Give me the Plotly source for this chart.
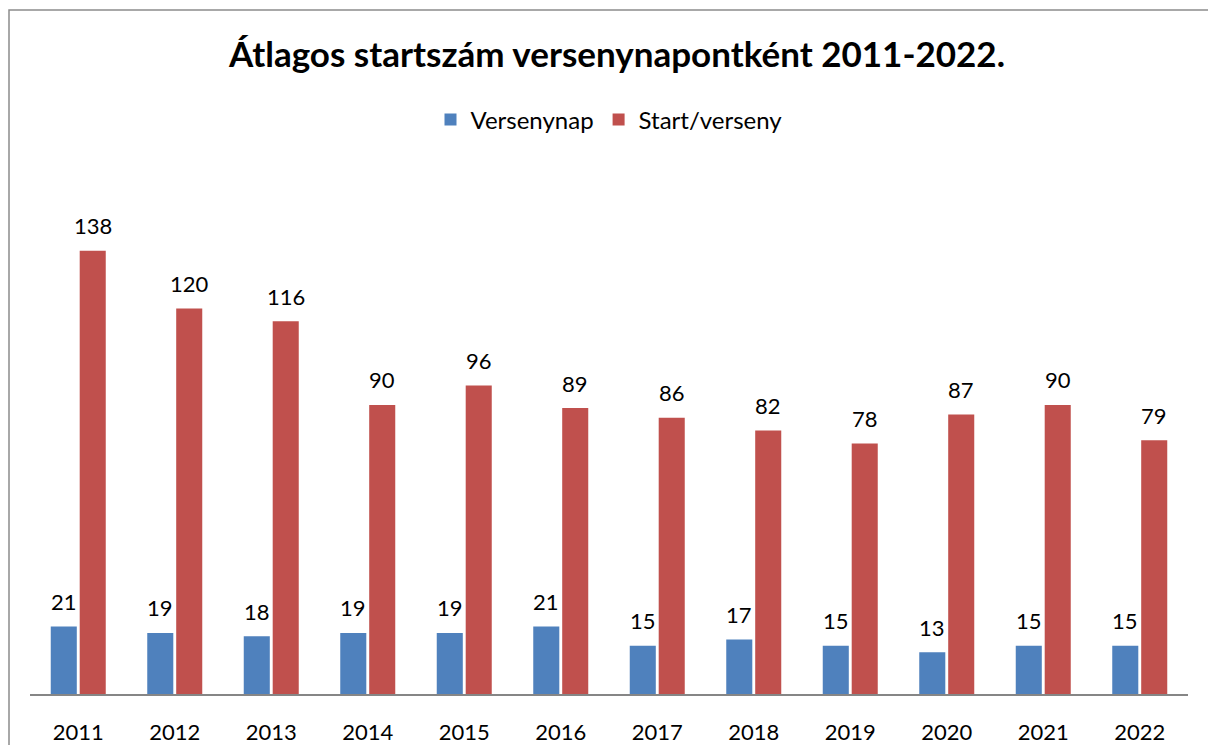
import plotly.graph_objects as go

years = ["2011", "2012", "2013", "2014", "2015", "2016", "2017", "2018", "2019", "2020", "2021", "2022"]
versenynap = [21, 19, 18, 19, 19, 21, 15, 17, 15, 13, 15, 15]
start_verseny = [138, 120, 116, 90, 96, 89, 86, 82, 78, 87, 90, 79]

BLUE = "#4F81BD"
RED = "#C0504D"
FONT = "Lato, Carlito, Calibri, sans-serif"

W, H = 1208, 745
ML, MR, MT, MB = 30, 20, 180, 51
plot_w = W - ML - MR
plot_h = H - MT - MB

fig = go.Figure()
fig.add_trace(go.Bar(x=years, y=versenynap, name="Versenynap", marker=dict(color=BLUE, line=dict(width=0))))
fig.add_trace(go.Bar(x=years, y=start_verseny, name="Start/verseny", marker=dict(color=RED, line=dict(width=0))))

bargap = 0.4
slot = plot_w / len(years) * (1 - bargap) / 2
annotations = []
for series, sign in ((versenynap, -1), (start_verseny, 1)):
    for i, v in enumerate(series):
        annotations.append(dict(
            x=i, y=v, xref="x", yref="y", text=str(v), showarrow=False,
            xshift=sign * slot / 2, yshift=25, yanchor="middle",
            font=dict(family=FONT, size=22, color="#000000"),
        ))

def px_to_paper_x(px):
    return (px - ML) / plot_w

def px_to_paper_y(py):
    return (H - MB - py) / plot_h

fig.update_layout(
    width=W, height=H,
    margin=dict(l=ML, r=MR, t=MT, b=MB, autoexpand=False),
    paper_bgcolor="white", plot_bgcolor="white",
    barmode="group", bargap=bargap, bargroupgap=0.1,
    title=dict(text="<b>Átlagos startszám versenynapontként 2011-2022.</b>",
               x=617 / W, xanchor="center", y=1 - 55 / H, yanchor="middle",
               font=dict(family=FONT, size=35, color="#000000")),
    legend=dict(orientation="h", x=0.5, xanchor="center", y=px_to_paper_y(120), yanchor="middle",
                font=dict(family=FONT, size=24, color="#000000"), traceorder="normal",
                bgcolor="rgba(0,0,0,0)"),
    xaxis=dict(type="category", range=[-0.5, len(years) - 0.5], autorange=False,
               showline=True, linecolor="#868686", linewidth=2, ticks="outside", ticklen=18,
               tickcolor="rgba(0,0,0,0)", tickfont=dict(family=FONT, size=22, color="#000000"),
               showgrid=False, fixedrange=True),
    yaxis=dict(range=[0, 160], autorange=False, visible=False, showgrid=False, fixedrange=True),
    annotations=annotations,
    shapes=[dict(type="rect", xref="paper", yref="paper",
                 x0=px_to_paper_x(9), x1=px_to_paper_x(1300),
                 y0=px_to_paper_y(800), y1=px_to_paper_y(10),
                 line=dict(color="#8C8C8C", width=1.5), fillcolor="rgba(0,0,0,0)", layer="below")],
    showlegend=True,
)

fig.write_html("out.html", config={"displayModeBar": False},
               post_script="document.body.style.margin='0';document.body.style.overflow='hidden';")
